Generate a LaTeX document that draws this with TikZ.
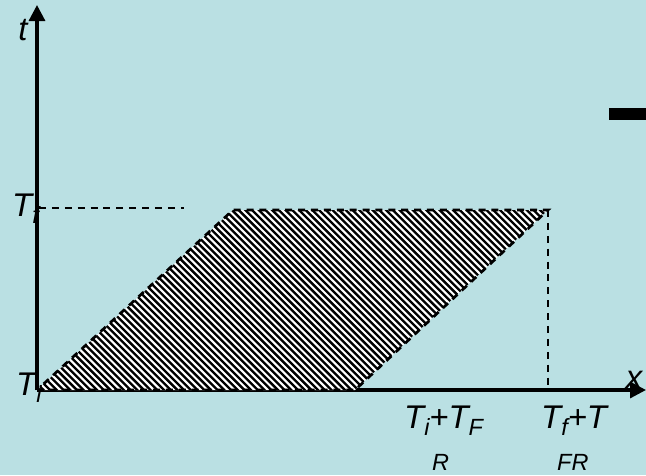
\documentclass[tikz,border=0pt]{standalone}
\usepackage{fontspec}
\setmainfont{Liberation Sans}
\usetikzlibrary{arrows.meta}
\definecolor{SpanBack}{HTML}{BAE0E3}
\definecolor{SpanInk}{HTML}{000000}
\newcommand{\lowsub}[1]{\raisebox{-0.21cm}{\fontsize{20}{20}\selectfont\itshape #1}}
\tikzset{
  spanaxis/.style={
    -{Triangle[length=0.48cm,width=0.48cm]},
    draw=SpanInk,
    line width=2.7pt
  },
  spanguide/.style={
    draw=SpanInk,
    line width=2.3pt,
    dash pattern=on 6pt off 5pt
  },
  spanstripe/.style={
    draw=SpanInk,
    line width=0.07cm
  },
  spanlabel/.style={
    inner sep=0pt,
    font=\fontsize{28}{32}\selectfont\itshape,
    text=SpanInk
  },
  spansmall/.style={
    inner sep=0pt,
    font=\fontsize{20}{22}\selectfont\itshape,
    text=SpanInk
  }
}

\begin{document}
\begin{tikzpicture}[x=0.03cm,y=-0.03cm]
  \fill[SpanBack] (0,0) rectangle (646,475);
  \useasboundingbox (0,0) rectangle (646,475);
  \coordinate (origin) at (37,390);
  \coordinate (ytip) at (37,5);
  \coordinate (xtip) at (646,390);
  \coordinate (lowright) at (355,390);
  \coordinate (upright) at (548,210);
  \coordinate (upleft) at (233,210);
  \coordinate (tfmark) at (39,208);
  \coordinate (tfend) at (184,208);
  \coordinate (footmark) at (548,386);
  \draw[spanaxis] (origin) -- (ytip);
  \draw[spanaxis] (origin) -- (xtip);
  \fill[white] (origin) -- (lowright) -- (upright) -- (upleft) -- cycle;
  \begin{scope}
    \clip (origin) -- (lowright) -- (upright) -- (upleft) -- cycle;
    \foreach \k in {-360,-353.3,...,345}
      \draw[spanstripe] (\k+190,190) -- (\k+410,410);
  \end{scope}
  \draw[spanguide] (origin) -- (lowright) -- (upright) -- (upleft) -- cycle;
  \draw[spanguide] (tfmark) -- (tfend);
  \draw[spanguide] (upright) -- (footmark);
  \fill[SpanInk] (609,108) rectangle (646,120);
  \node[spanlabel,anchor=base] (tlabel) at (23,40) {t};
  \node[spanlabel,anchor=base] (xlabel) at (634,388) {x};
  \node[spanlabel,anchor=base west] (tflabel) at (12,216) {T\lowsub{f}};
  \node[spanlabel,anchor=base west] (tilabel) at (16,395) {T\lowsub{i}};
  \node[spanlabel,anchor=base west] (sumleft) at (404,428) {T\lowsub{i}+T\lowsub{F}};
  \node[spanlabel,anchor=base west] (sumright) at (541,428) {T\lowsub{f}+T};
  \node[spansmall,anchor=base west] (tailleft) at (432,470) {R};
  \node[spansmall,anchor=base west] (tailright) at (557,470) {FR};
\end{tikzpicture}
\end{document}
